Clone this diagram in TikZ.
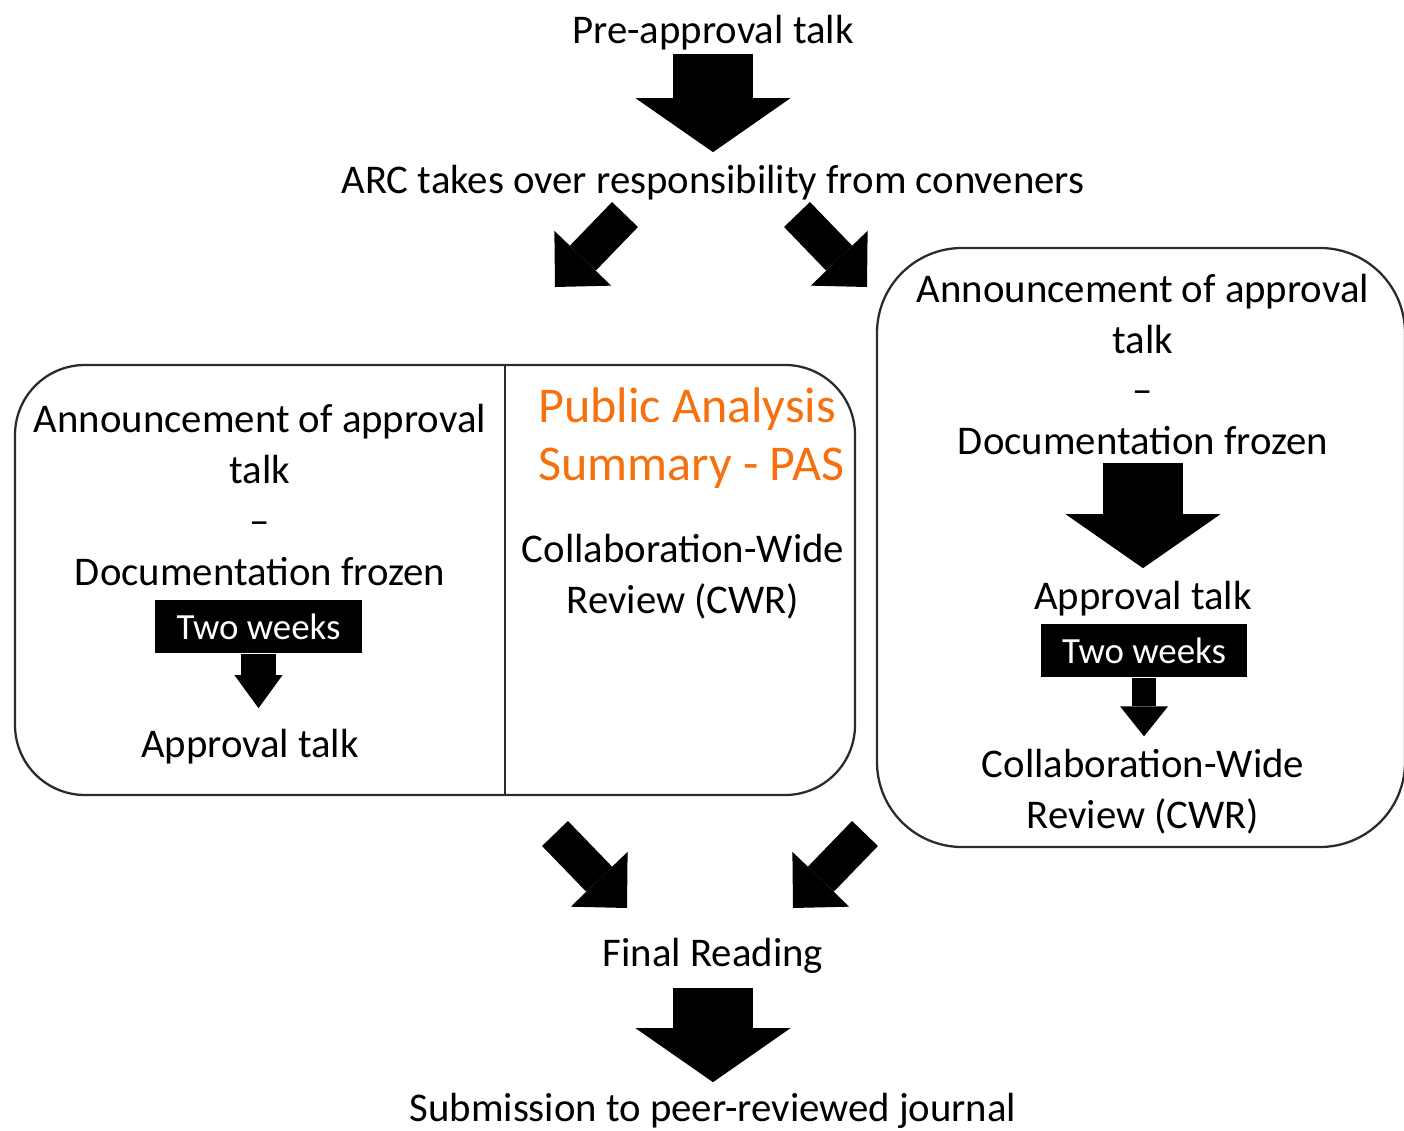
\documentclass[tikz,border=0pt]{standalone}
\usepackage{fontspec}
\setmainfont{Carlito}
\usetikzlibrary{positioning, arrows.meta, calc}
\definecolor{pasorange}{HTML}{F7700E}
\definecolor{boxline}{HTML}{2B2B2B}

\begin{document}
\begin{tikzpicture}[x=0.02cm, y=-0.02cm,
    txt/.style={font=\fontsize{23.2}{29}\selectfont, inner sep=0pt, align=center,
                execute at begin node={\rule{0pt}{\dimexpr0.7\baselineskip+0.1cm\relax}},
                execute at end node={\rule[\dimexpr-0.3\baselineskip+0.1cm\relax]{0pt}{\dimexpr0.3\baselineskip-0.1cm\relax}}},
    bigarrow/.style={line width=1.6cm, -{Triangle[width=3.1cm, length=1.08cm, line width=0pt]}},
    diagarrow/.style={line width=0.72cm, -{Triangle[width=1.58cm, length=0.8cm, line width=0pt]}},
    weeks/.style={fill=black, text=white, font=\fontsize{21}{25}\selectfont,
                  minimum width=4.14cm, minimum height=1.08cm, inner sep=0pt},
    roundbox/.style={draw=boxline, line width=1.3pt}]
  \useasboundingbox (0,0) rectangle (1404,1131);
  \clip (0,0) rectangle (1404,1131);

  % boxes
  \draw[roundbox, rounded corners=1.4cm] (15,365) rectangle (855,795);
  \draw[boxline, line width=1.5pt] (505,365) -- (505,795);
  \draw[roundbox, rounded corners=1.7cm] (877,248) rectangle (1405,847);

  % texts
  \node[txt] (pre) at (713,28) {Pre-approval talk};
  \node[txt] (arc) at (713,178) {ARC takes over responsibility from conveners};
  \node[txt] (annL) at (260,500) {Announcement of approval\\talk\\--\\Documentation frozen};
  \node[weeks] (weeksL) at (258.5,626.5) {Two weeks};
  \node[txt] (appL) at (250,742) {Approval talk};
  \node[txt, font=\fontsize{28.5}{33}\selectfont, text=pasorange, align=left, anchor=west]
        (pas) at (538,440) {Public Analysis\\Summary - PAS};
  \node[txt] (cwrM) at (683,579) {Collaboration-Wide\\Review (CWR)};
  \node[txt] (annR) at (1143,369.5) {Announcement of approval\\talk\\--\\Documentation frozen};
  \node[txt] (appR) at (1143,594) {Approval talk};
  \node[weeks] (weeksR) at (1144,650.5) {Two weeks};
  \node[txt] (cwrR) at (1143,794) {Collaboration-Wide\\Review (CWR)};
  \node[txt] (final) at (713,951) {Final Reading};
  \node[txt] (submit) at (713,1106) {Submission to peer-reviewed journal};

  % block arrows
  \draw[bigarrow] (pre) -- (arc);
  \draw[bigarrow, shorten <=-0.05cm] (annR) -- (appR);
  \draw[bigarrow, shorten <=0.22cm, shorten >=-0.04cm] (final) -- (submit);
  \draw[line width=0.72cm, -{Triangle[width=0.96cm, length=0.66cm, line width=0pt]}, shorten >=0.16cm]
        (weeksL.south) -- (weeksL.south |- appL.north);
  \draw[line width=0.48cm, -{Triangle[width=0.96cm, length=0.6cm, line width=0pt]}, shorten >=0.25cm]
        (weeksR.south) -- (weeksR.south |- cwrR.north);

  \coordinate (outL) at (625,214.5);
  \coordinate (inL) at (555,287);
  \coordinate (outR) at (797,214.5);
  \coordinate (inR) at (867,287);
  \coordinate (upL) at (555,833.5);
  \coordinate (downL) at (627,908);
  \coordinate (upR) at (865,833.5);
  \coordinate (downR) at (793,908);
  \foreach \s/\t in {outL/inL, outR/inR, upL/downL, upR/downR} \draw[diagarrow] (\s) -- (\t);
\end{tikzpicture}
\end{document}
